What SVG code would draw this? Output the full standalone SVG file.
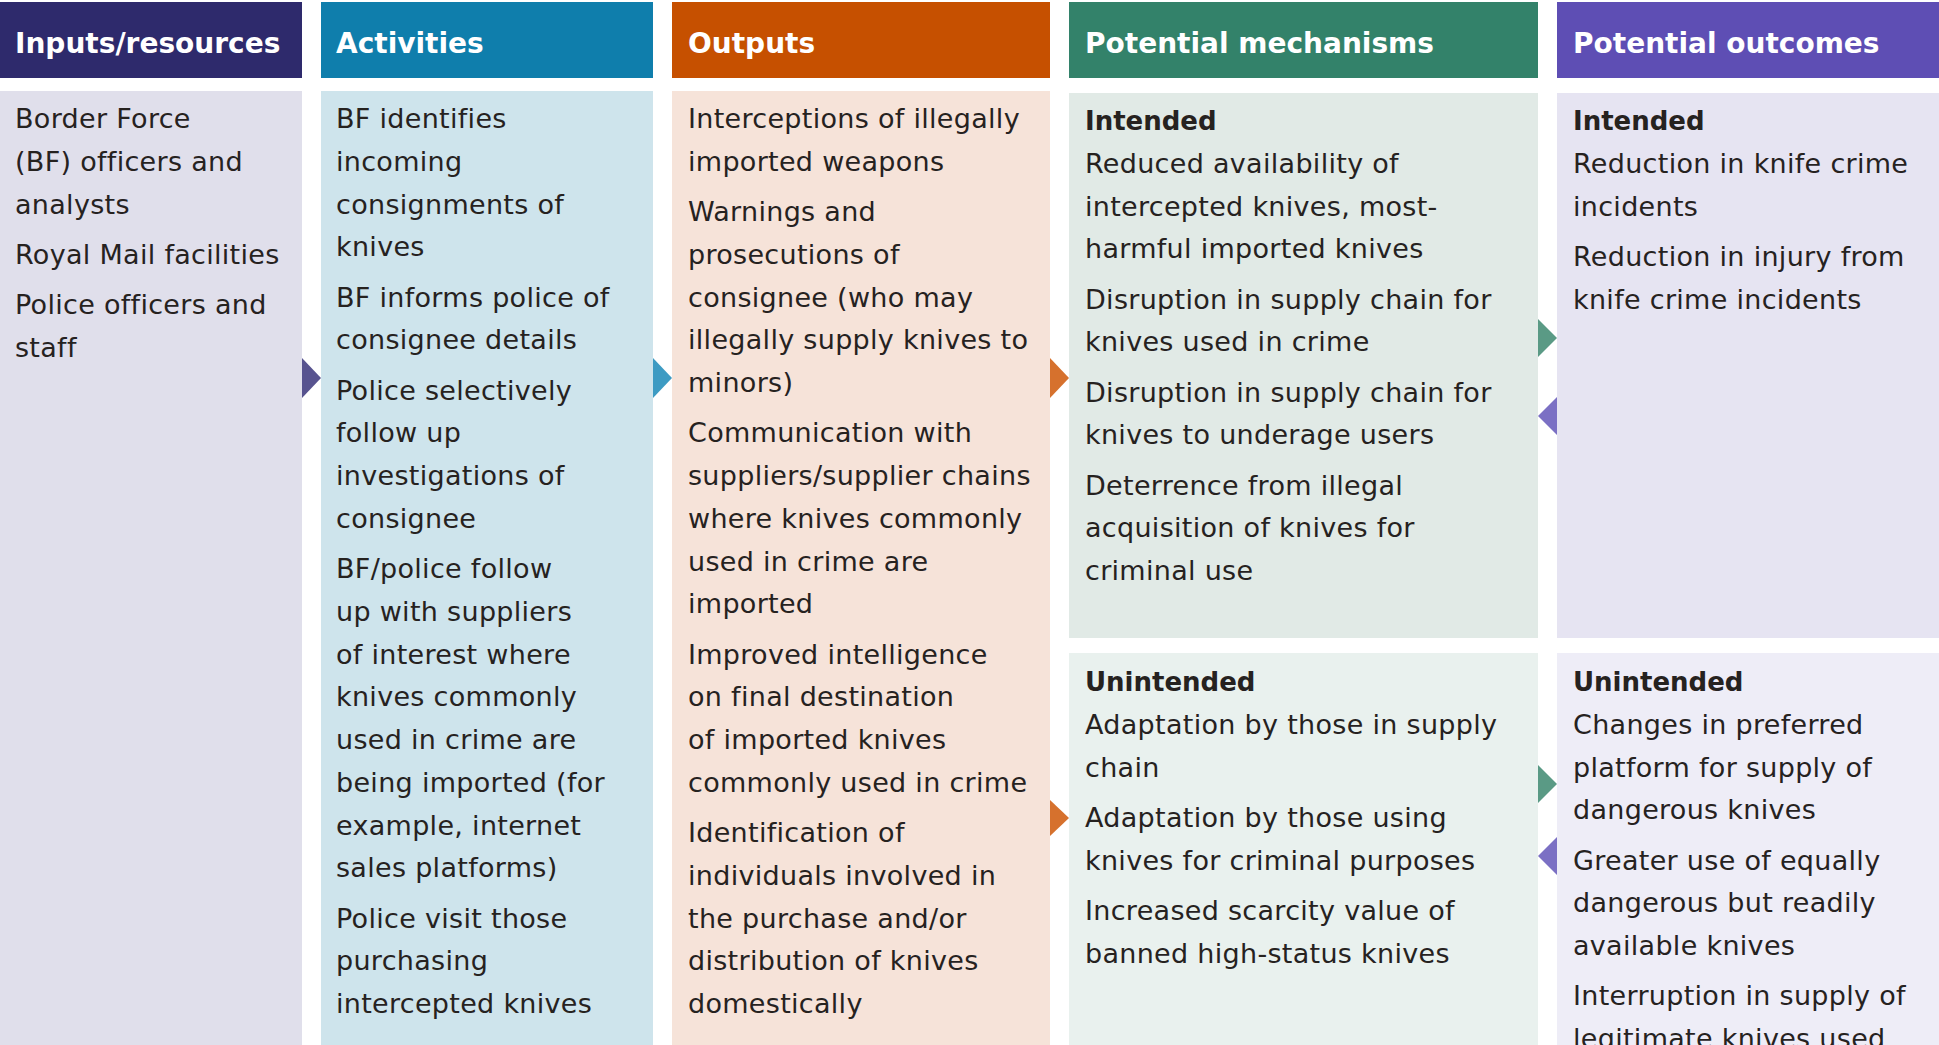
<svg xmlns="http://www.w3.org/2000/svg" width="1939" height="1045" viewBox="0 0 1939 1045">
<style>
.hd{font-family:"DejaVu Sans","Liberation Sans",sans-serif;font-weight:bold;font-size:28px;fill:#ffffff}
.tx{font-family:"DejaVu Sans","Liberation Sans",sans-serif;font-size:27px;letter-spacing:0.3px;fill:#26221f}
.sb{font-family:"DejaVu Sans","Liberation Sans",sans-serif;font-weight:bold;font-size:26px;fill:#26221f}
</style>
<rect width="1939" height="1045" fill="#ffffff"/>

<g id="inputs">
<rect x="0" y="2" width="302" height="76" fill="#2e2a6c"/>
<text class="hd" x="15" y="53">Inputs/resources</text>
<rect x="0" y="91" width="302" height="960" fill="#e0dfeb"/>
<text class="tx" x="15">
<tspan x="15" y="128">Border Force</tspan>
<tspan x="15" y="170.75">(BF) officers and</tspan>
<tspan x="15" y="213.5">analysts</tspan>
<tspan x="15" y="263.75">Royal Mail facilities</tspan>
<tspan x="15" y="314">Police officers and</tspan>
<tspan x="15" y="356.75">staff</tspan>
</text>
</g>

<g id="activities">
<rect x="321" y="2" width="332" height="76" fill="#0f7eac"/>
<text class="hd" x="336" y="53">Activities</text>
<rect x="321" y="91" width="332" height="960" fill="#cee4ec"/>
<text class="tx">
<tspan x="336" y="128">BF identifies</tspan>
<tspan x="336" y="170.75">incoming</tspan>
<tspan x="336" y="213.5">consignments of</tspan>
<tspan x="336" y="256.25">knives</tspan>
<tspan x="336" y="306.5">BF informs police of</tspan>
<tspan x="336" y="349.25">consignee details</tspan>
<tspan x="336" y="399.5">Police selectively</tspan>
<tspan x="336" y="442.25">follow up</tspan>
<tspan x="336" y="485">investigations of</tspan>
<tspan x="336" y="527.75">consignee</tspan>
<tspan x="336" y="578">BF/police follow</tspan>
<tspan x="336" y="620.75">up with suppliers</tspan>
<tspan x="336" y="663.5">of interest where</tspan>
<tspan x="336" y="706.25">knives commonly</tspan>
<tspan x="336" y="749">used in crime are</tspan>
<tspan x="336" y="791.75">being imported (for</tspan>
<tspan x="336" y="834.5">example, internet</tspan>
<tspan x="336" y="877.25">sales platforms)</tspan>
<tspan x="336" y="927.5">Police visit those</tspan>
<tspan x="336" y="970.25">purchasing</tspan>
<tspan x="336" y="1013">intercepted knives</tspan>
</text>
</g>

<g id="outputs">
<rect x="672" y="2" width="378" height="76" fill="#c65000"/>
<text class="hd" x="688" y="53">Outputs</text>
<rect x="672" y="91" width="378" height="960" fill="#f6e3d9"/>
<text class="tx">
<tspan x="688" y="128">Interceptions of illegally</tspan>
<tspan x="688" y="170.75">imported weapons</tspan>
<tspan x="688" y="221">Warnings and</tspan>
<tspan x="688" y="263.75">prosecutions of</tspan>
<tspan x="688" y="306.5">consignee (who may</tspan>
<tspan x="688" y="349.25">illegally supply knives to</tspan>
<tspan x="688" y="392">minors)</tspan>
<tspan x="688" y="442.25">Communication with</tspan>
<tspan x="688" y="485">suppliers/supplier chains</tspan>
<tspan x="688" y="527.75">where knives commonly</tspan>
<tspan x="688" y="570.5">used in crime are</tspan>
<tspan x="688" y="613.25">imported</tspan>
<tspan x="688" y="663.5">Improved intelligence</tspan>
<tspan x="688" y="706.25">on final destination</tspan>
<tspan x="688" y="749">of imported knives</tspan>
<tspan x="688" y="791.75">commonly used in crime</tspan>
<tspan x="688" y="842">Identification of</tspan>
<tspan x="688" y="884.75">individuals involved in</tspan>
<tspan x="688" y="927.5">the purchase and/or</tspan>
<tspan x="688" y="970.25">distribution of knives</tspan>
<tspan x="688" y="1013">domestically</tspan>
</text>
</g>

<g id="mechanisms">
<rect x="1069" y="2" width="469" height="76" fill="#33826a"/>
<text class="hd" x="1085" y="53">Potential mechanisms</text>
</g>

<g id="mechanisms-intended">
<rect x="1069" y="93" width="469" height="545" fill="#e1eae6"/>
<text class="sb" x="1085" y="130">Intended</text>
<text class="tx">
<tspan x="1085" y="172.75">Reduced availability of</tspan>
<tspan x="1085" y="215.5">intercepted knives, most-</tspan>
<tspan x="1085" y="258.25">harmful imported knives</tspan>
<tspan x="1085" y="308.5">Disruption in supply chain for</tspan>
<tspan x="1085" y="351.25">knives used in crime</tspan>
<tspan x="1085" y="401.5">Disruption in supply chain for</tspan>
<tspan x="1085" y="444.25">knives to underage users</tspan>
<tspan x="1085" y="494.5">Deterrence from illegal</tspan>
<tspan x="1085" y="537.25">acquisition of knives for</tspan>
<tspan x="1085" y="580">criminal use</tspan>
</text>
</g>

<g id="mechanisms-unintended">
<rect x="1069" y="653" width="469" height="400" fill="#e9f1ee"/>
<text class="sb" x="1085" y="691">Unintended</text>
<text class="tx">
<tspan x="1085" y="733.75">Adaptation by those in supply</tspan>
<tspan x="1085" y="776.5">chain</tspan>
<tspan x="1085" y="826.75">Adaptation by those using</tspan>
<tspan x="1085" y="869.5">knives for criminal purposes</tspan>
<tspan x="1085" y="919.75">Increased scarcity value of</tspan>
<tspan x="1085" y="962.5">banned high-status knives</tspan>
</text>
</g>

<g id="outcomes">
<rect x="1557" y="2" width="382" height="76" fill="#5e4eb4"/>
<text class="hd" x="1573" y="53">Potential outcomes</text>
</g>

<g id="outcomes-intended">
<rect x="1557" y="93" width="382" height="545" fill="#e6e4f2"/>
<text class="sb" x="1573" y="130">Intended</text>
<text class="tx">
<tspan x="1573" y="172.75">Reduction in knife crime</tspan>
<tspan x="1573" y="215.5">incidents</tspan>
<tspan x="1573" y="265.75">Reduction in injury from</tspan>
<tspan x="1573" y="308.5">knife crime incidents</tspan>
</text>
</g>

<g id="outcomes-unintended">
<rect x="1557" y="653" width="382" height="400" fill="#eeedf7"/>
<text class="sb" x="1573" y="691">Unintended</text>
<text class="tx">
<tspan x="1573" y="733.75">Changes in preferred</tspan>
<tspan x="1573" y="776.5">platform for supply of</tspan>
<tspan x="1573" y="819.25">dangerous knives</tspan>
<tspan x="1573" y="869.5">Greater use of equally</tspan>
<tspan x="1573" y="912.25">dangerous but readily</tspan>
<tspan x="1573" y="955">available knives</tspan>
<tspan x="1573" y="1005.25">Interruption in supply of</tspan>
<tspan x="1573" y="1048">legitimate knives used</tspan>
</text>
</g>

<g id="connectors">
<polygon points="302,358 321,378 302,398" fill="#57538f"/>
<polygon points="653,358 672,378 653,398" fill="#3d9bc3"/>
<polygon points="1050,358 1069,378 1050,398" fill="#d6712d"/>
<polygon points="1050,800 1069,818 1050,836" fill="#d6712d"/>
<polygon points="1538,319 1557,338 1538,357" fill="#5a9a85"/>
<polygon points="1557,397 1538,416 1557,435" fill="#7b70c4"/>
<polygon points="1538,765 1557,784 1538,803" fill="#5a9a85"/>
<polygon points="1557,837 1538,856 1557,875" fill="#7b70c4"/>
</g>
</svg>
